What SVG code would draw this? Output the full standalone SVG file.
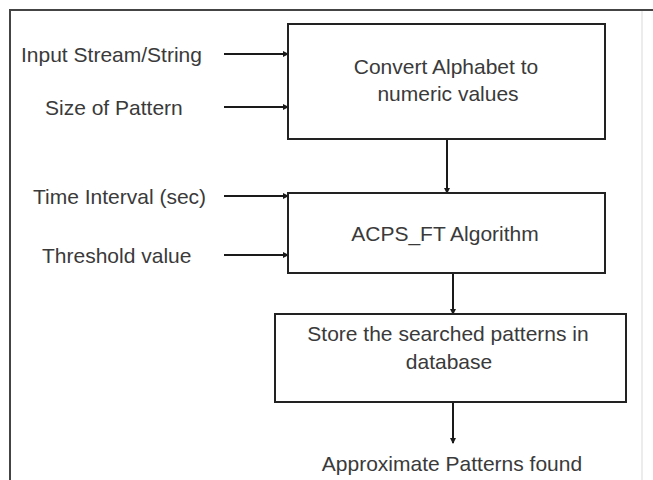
<svg xmlns="http://www.w3.org/2000/svg" width="653" height="480" viewBox="0 0 653 480">
<style>
.box{fill:#fff;stroke:#222;stroke-width:2}
.lbl{font-family:"Liberation Sans",Arial,sans-serif;font-size:21px;fill:#3a3a3a}
.c{stroke:#1a1a1a;stroke-width:2;fill:none;marker-end:url(#ah)}
</style>
<defs>
<marker id="ah" viewBox="0 0 6 6" refX="5" refY="3" markerWidth="3" markerHeight="3" orient="auto" markerUnits="strokeWidth">
<path d="M0,0 L6,3 L0,6 z" fill="#1a1a1a"/>
</marker>
</defs>
<rect width="653" height="480" fill="#fff"/>
<g id="frame">
<line x1="10" y1="10" x2="653" y2="10" stroke="#444" stroke-width="2"/>
<line x1="10" y1="9" x2="10" y2="480" stroke="#444" stroke-width="2"/>
<line x1="642" y1="11" x2="642" y2="480" stroke="#e6e6e6" stroke-width="1.5"/>
</g>
<g id="connectors">
<line class="c" x1="224" y1="54" x2="288" y2="54"/>
<line class="c" x1="224" y1="107" x2="288" y2="107"/>
<line class="c" x1="224" y1="196" x2="288" y2="196"/>
<line class="c" x1="224" y1="255" x2="288" y2="255"/>
<line class="c" x1="447" y1="139" x2="447" y2="193"/>
<line class="c" x1="453" y1="273" x2="453" y2="314"/>
<line class="c" x1="453" y1="402" x2="453" y2="443"/>
</g>
<g id="input-stream"><text class="lbl" x="21" y="62">Input Stream/String</text></g>
<g id="size-pattern"><text class="lbl" x="45" y="115">Size of Pattern</text></g>
<g id="time-interval"><text class="lbl" x="33" y="204">Time Interval (sec)</text></g>
<g id="threshold"><text class="lbl" x="42" y="263">Threshold value</text></g>
<g id="convert">
<rect class="box" x="288" y="24" width="317" height="115"/>
<text class="lbl" x="446" y="74" text-anchor="middle">Convert Alphabet to</text>
<text class="lbl" x="448" y="101" text-anchor="middle">numeric values</text>
</g>
<g id="acps">
<rect class="box" x="288" y="193" width="317" height="80"/>
<text class="lbl" x="445" y="241" text-anchor="middle">ACPS_FT Algorithm</text>
</g>
<g id="store">
<rect class="box" x="275" y="314" width="351" height="88"/>
<text class="lbl" x="448" y="341" text-anchor="middle">Store the searched patterns in</text>
<text class="lbl" x="449" y="369" text-anchor="middle">database</text>
</g>
<g id="approx"><text class="lbl" x="452" y="471" text-anchor="middle">Approximate Patterns found</text></g>
</svg>
